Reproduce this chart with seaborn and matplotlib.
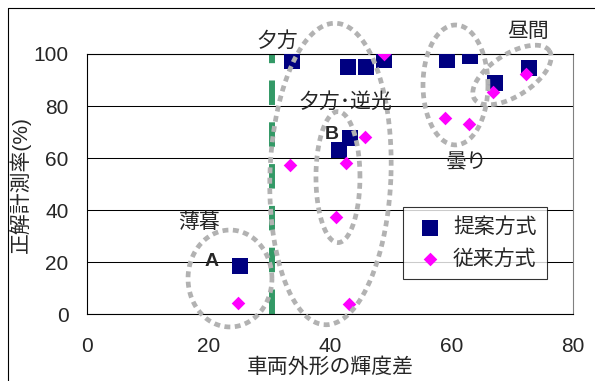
import numpy as np
import pandas as pd
import seaborn as sns
import matplotlib.pyplot as plt
from matplotlib.lines import Line2D

# data
prop_x = [25.2, 33.8, 41.4, 43.3, 43.0, 45.9, 48.8, 59.2, 63.1, 67.1, 72.8]
prop_y = [18.5, 97.2, 63.1, 67.6, 95.1, 95.1, 97.6, 97.7, 99.2, 89.0, 94.5]
conv_x = [24.9, 43.1, 41.0, 33.4, 42.7, 45.75, 48.8, 58.9, 62.85, 66.85, 72.3]
conv_y = [4.3, 4.0, 37.5, 57.4, 58.0, 68.2, 99.9, 75.3, 73.1, 85.3, 92.2]
threshold = 30.4
x_ticks = [0, 20, 40, 60, 80]
y_ticks = [0, 20, 40, 60, 80, 100]

prop = pd.DataFrame({'x': prop_x, 'y': prop_y})
conv = pd.DataFrame({'x': conv_x, 'y': conv_y})

sns.set_style('white')
plt.rcParams['font.family'] = ['Liberation Sans', 'Noto Sans CJK JP']

fig = plt.figure(figsize=(5.95, 3.81), dpi=100)
rect = [0.1457, 0.1751, 0.8178, 0.6832]
ax = fig.add_axes(rect)

ax.axvline(threshold, color='#339966', lw=4.3, dashes=(4.1, 2.9), zorder=2)

sns.scatterplot(data=prop, x='x', y='y', marker='s', s=144, color='#000080',
                linewidth=0, label='提案方式', ax=ax, zorder=3)
sns.scatterplot(data=conv, x='x', y='y', marker='D', s=48, color='#ff00ff',
                linewidth=0, label='従来方式', ax=ax, zorder=4)

ax.set_xlim(0, 80)
ax.set_ylim(0, 100)
ax.set_xticks(x_ticks)
ax.set_yticks(y_ticks)
ax.yaxis.grid(True, color='black', lw=0.75)
ax.set_axisbelow(True)
for s in ['left', 'bottom', 'top']:
    ax.spines[s].set_color('black')
    ax.spines[s].set_linewidth(0.8)
ax.spines['right'].set_color('#808080')
ax.spines['right'].set_linewidth(0.8)
ax.tick_params(axis='x', direction='in', length=5, width=0.75, color='black',
               pad=16, labelsize=15)
ax.tick_params(axis='y', direction='in', length=0, pad=13, labelsize=15)
ax.set_xlabel('車両外形の輝度差', fontsize=15, labelpad=1)
ax.set_ylabel('正解計測率(%)', fontsize=15, labelpad=2)

# dotted ovals (sizes given in x units, y scaled to screen aspect)
k = (rect[2] * 595 / 80) / (rect[3] * 381 / 100)


def oval(cx, cy, a, b, ang=0):
    t = np.linspace(0, 2 * np.pi, 300)
    th = np.deg2rad(ang)
    u = a * np.cos(t)
    v = b * np.sin(t)
    dx = u * np.cos(th) - v * np.sin(th)
    dy = (u * np.sin(th) + v * np.cos(th)) * k
    ax.plot(cx + dx, cy + dy, color='#b2b2b2', lw=3.4, dashes=(1.25, 0.95),
            dash_capstyle='butt', clip_on=False, zorder=5)


oval(23.56, 13.75, 6.9, 7.97)
oval(40.08, 53.9, 9.95, 24.8, -2)
oval(41.31, 52.7, 3.62, 10.77)
oval(60.63, 88.1, 5.34, 9.86)
oval(69.92, 91.93, 7.32, 3.45, 32.6)

notes = [('夕方', 31.28, 104.9), ('夕方･逆光', 42.46, 81.7), ('薄暮', 18.5, 35.4),
         ('曇り', 62.47, 58.1), ('昼間', 72.66, 108.6)]
for txt, x, y in notes:
    ax.text(x, y, txt, fontsize=15, ha='center', va='center', zorder=6, clip_on=False)
ax.text(40.28, 68.9, 'B', fontsize=14, fontweight='bold', ha='center', va='center', zorder=6)
ax.text(20.55, 20.2, 'A', fontsize=14, fontweight='bold', ha='center', va='center', zorder=6)

leg = ax.legend(loc='upper left', bbox_to_anchor=(0.650, 0.412), borderaxespad=0,
                fontsize=15, frameon=True, fancybox=False, edgecolor='black',
                borderpad=0.5, labelspacing=0.55, handlelength=1.6, handletextpad=0.3)
leg.get_frame().set_linewidth(0.8)
leg.set_zorder(7)

# outer chart border
fig.add_artist(Line2D([8 / 595, 8 / 595], [0, 1 - 8 / 381], color='black', lw=0.8))
fig.add_artist(Line2D([8 / 595, 1], [1 - 8 / 381, 1 - 8 / 381], color='black', lw=0.8))

fig.savefig('out.png', dpi=100)
